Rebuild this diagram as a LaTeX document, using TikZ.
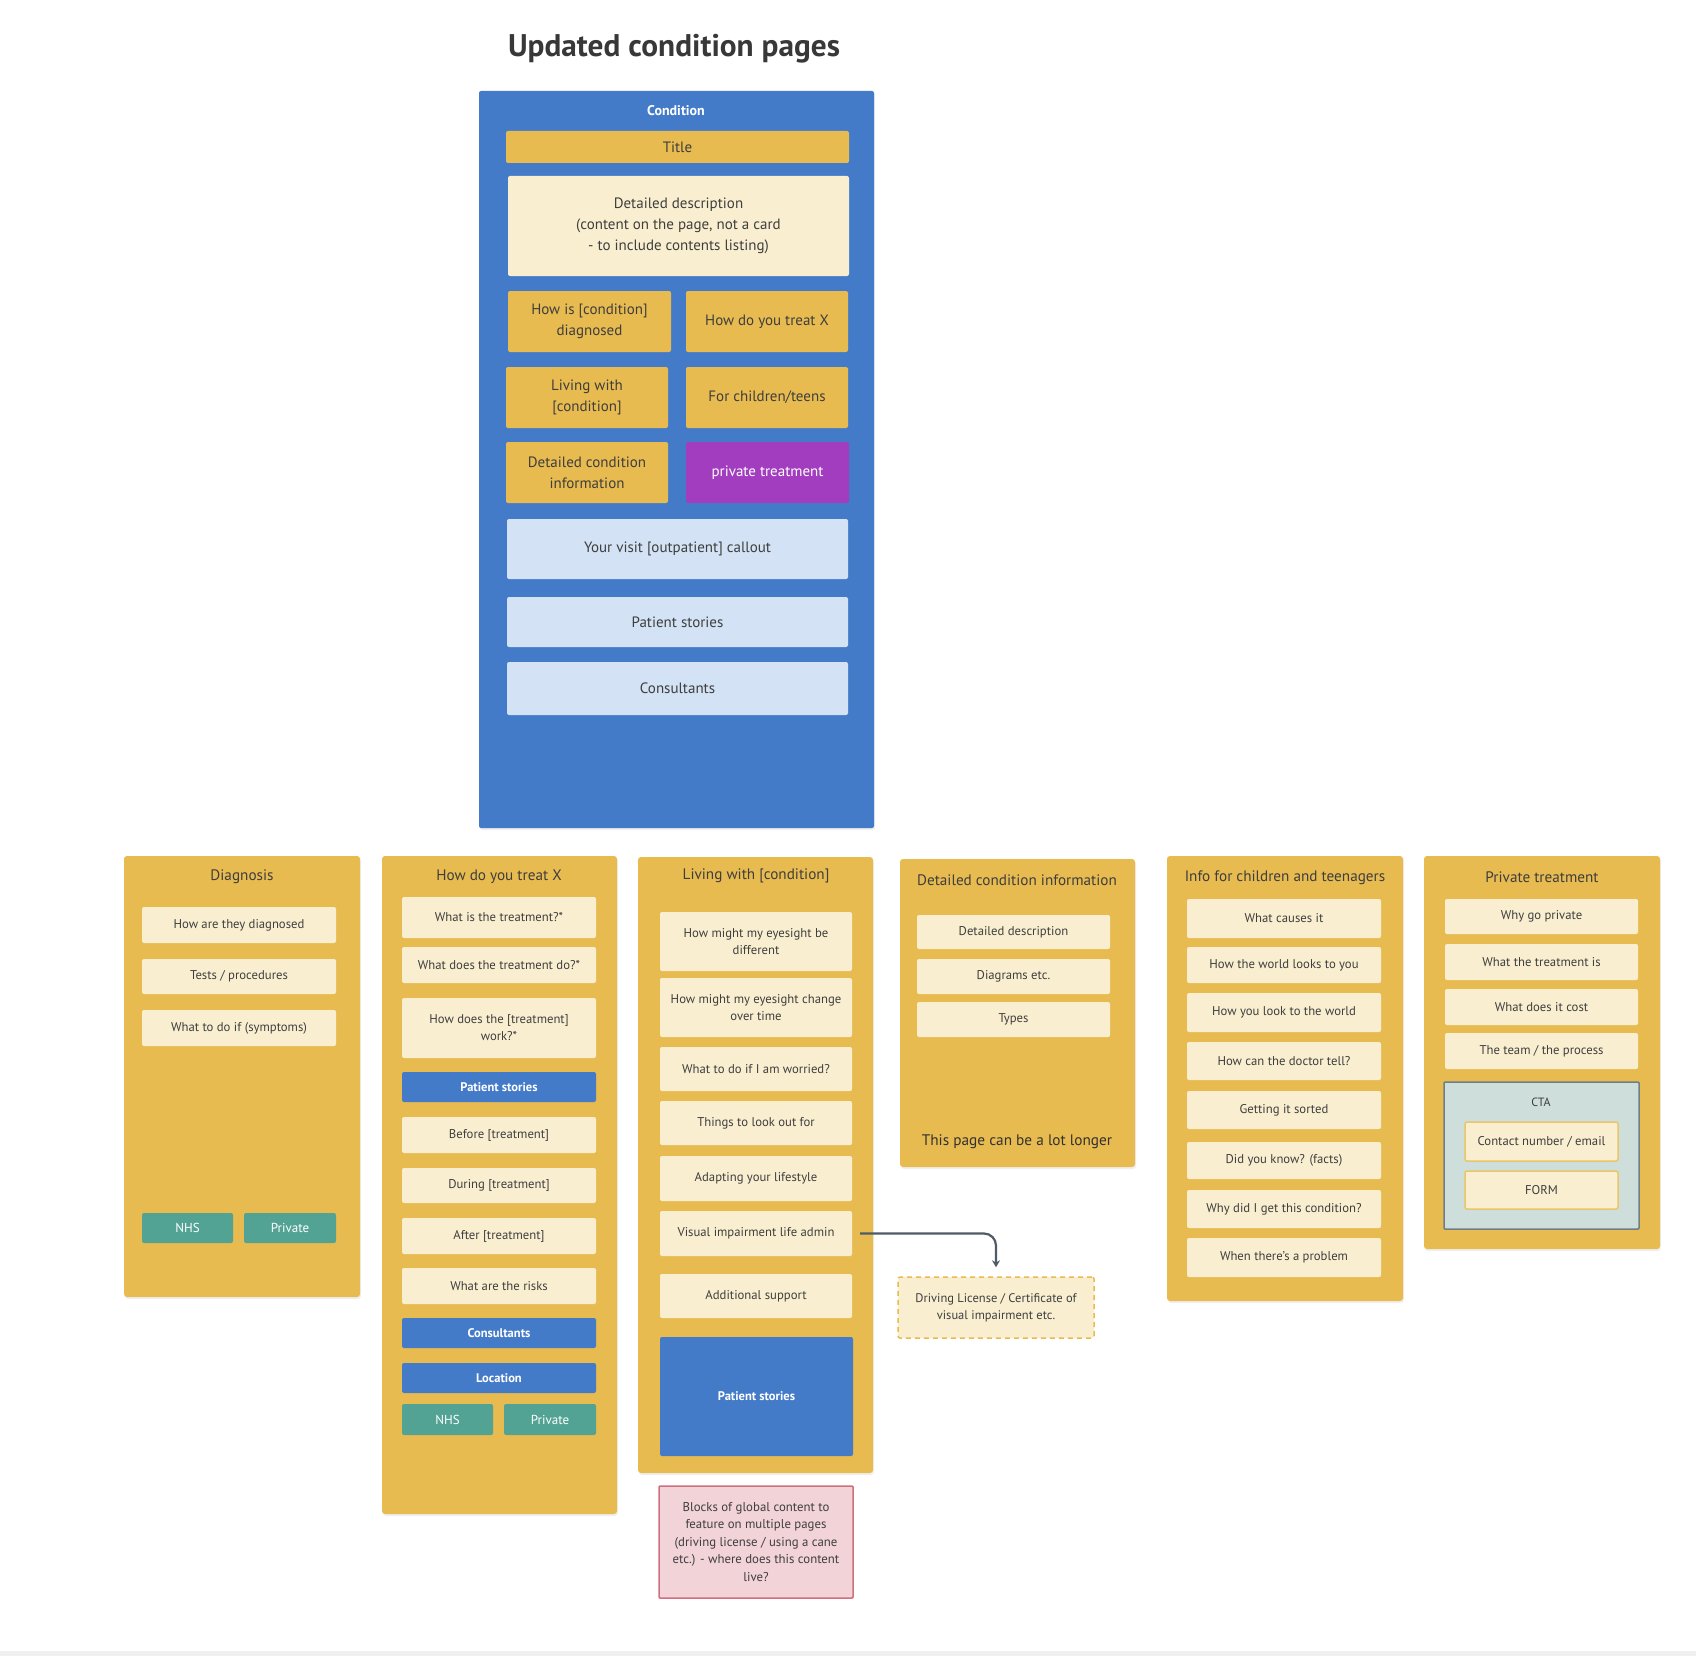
\documentclass[tikz,border=0pt]{standalone}
\usepackage{fontspec}
\setmainfont{PT Sans}
\usetikzlibrary{arrows.meta,shadows}
\definecolor{condblue}{HTML}{447BC9}
\definecolor{panelY}{HTML}{E8BB50}
\definecolor{cream}{HTML}{F9EFD0}
\definecolor{lightblue}{HTML}{D3E2F4}
\definecolor{purp}{HTML}{A23DC0}
\definecolor{teal}{HTML}{53A395}
\definecolor{pinkfill}{HTML}{F2D3D8}
\definecolor{pinkline}{HTML}{D0707E}
\definecolor{ctafill}{HTML}{CEDEDB}
\definecolor{ctaline}{HTML}{6F7F86}
\definecolor{txt}{HTML}{3E3E3E}
\definecolor{conn}{HTML}{4F5B66}
\newcommand\mybox[7]{\node[#2, minimum width={(#5-#3)*1pt}, minimum height={(#6-#4)*1pt}] (#1) at ({(#3+#5)/2},{(#4+#6)/2}) {#7};}
\tikzset{
  base/.style={inner sep=0pt, align=center, text=txt, font=\fontsize{12.7}{17}\selectfont},
  panel/.style={base, fill=panelY, rounded corners=3pt, drop shadow={opacity=0.12, shadow xshift=1pt, shadow yshift=-2pt}},
  card/.style={base, fill=cream, rounded corners=2pt},
  bigcard/.style={card, font=\fontsize{15}{21}\selectfont},
  ybox/.style={base, fill=panelY, rounded corners=2pt, font=\fontsize{15}{21}\selectfont},
  lbbox/.style={base, fill=lightblue, rounded corners=2pt, font=\fontsize{15}{21}\selectfont},
  bluebox/.style={base, fill=condblue, text=white, rounded corners=2pt, font=\bfseries\fontsize{12.5}{15}\selectfont},
  tealbox/.style={base, fill=teal, text=white, rounded corners=2pt, font=\fontsize{13}{15}\selectfont},
  ptitle/.style={inner sep=0pt, text=txt, font=\fontsize{15.2}{18}\selectfont},
  connector/.style={draw=conn, line width=2.2pt, rounded corners=12pt, -{Stealth[length=7pt,width=8pt]}},
}
\begin{document}
\begin{tikzpicture}[x=1pt,y=-1pt]
\useasboundingbox (0,0) rectangle (1696,1656);
\fill[white] (0,0) rectangle (1696,1656);
\fill[black!6] (0,1651) rectangle (1696,1656);

\node[inner sep=0pt, text=txt!90!black, font=\bfseries\fontsize{31.3}{36}\selectfont] (maintitle) at (674,49) {Updated condition pages};

% Condition page
\mybox{cond}{base, fill=condblue, rounded corners=2pt, drop shadow={opacity=0.12, shadow xshift=1pt, shadow yshift=-2pt}}{479}{91}{874}{828}{}
\node[inner sep=0pt, text=white, font=\bfseries\fontsize{14}{16}\selectfont] (condlabel) at (676,111) {Condition};
\mybox{ctitle}{ybox}{506}{131}{849}{163}{Title}
\mybox{cdesc}{bigcard}{508}{176}{849}{276}{Detailed description\\(content on the page, not a card\\- to include contents listing)}
\mybox{cdiag}{ybox}{508}{291}{671}{352}{How is [condition]\\diagnosed}
\mybox{ctreat}{ybox}{686}{291}{848}{352}{How do you treat X}
\mybox{cliving}{ybox}{506}{367}{668}{428}{Living with\\{[condition]}}
\mybox{cchild}{ybox}{686}{367}{848}{428}{For children/teens}
\mybox{cdetail}{ybox}{506}{442}{668}{503}{Detailed condition\\information}
\mybox{cprivate}{ybox, fill=purp, text=white}{686}{442}{849}{503}{private treatment}
\mybox{cvisit}{lbbox}{507}{519}{848}{579}{Your visit [outpatient] callout}
\mybox{cstories}{lbbox}{507}{597}{848}{647}{Patient stories}
\mybox{cconsult}{lbbox}{507}{662}{848}{715}{Consultants}

% Diagnosis
\mybox{pdiag}{panel}{124}{856}{360}{1297}{}
\node[ptitle] (tdiag) at (242,877) {Diagnosis};
\mybox{d1}{card}{142}{907}{336}{943}{How are they diagnosed}
\mybox{d2}{card}{142}{959}{336}{994}{Tests / procedures}
\mybox{d3}{card}{142}{1010}{336}{1046}{What to do if (symptoms)}
\mybox{dnhs}{tealbox}{142}{1213}{233}{1243}{NHS}
\mybox{dpriv}{tealbox}{244}{1213}{336}{1243}{Private}

% How do you treat X
\mybox{ptreat}{panel}{382}{856}{617}{1514}{}
\node[ptitle] (ttreat) at (499,877) {How do you treat X};
\mybox{t1}{card}{402}{897}{596}{938}{What is the treatment?*}
\mybox{t2}{card}{402}{947}{596}{983}{What does the treatment do?*}
\mybox{t3}{card}{402}{998}{596}{1058}{How does the [treatment]\\{work?*}}
\mybox{t4}{bluebox}{402}{1072}{596}{1102}{Patient stories}
\mybox{t5}{card}{402}{1117}{596}{1153}{Before [treatment]}
\mybox{t6}{card}{402}{1168}{596}{1203}{During [treatment]}
\mybox{t7}{card}{402}{1218}{596}{1254}{After [treatment]}
\mybox{t8}{card}{402}{1268}{596}{1304}{What are the risks}
\mybox{t9}{bluebox}{402}{1318}{596}{1348}{Consultants}
\mybox{t10}{bluebox}{402}{1363}{596}{1393}{Location}
\mybox{tnhs}{tealbox}{402}{1404}{493}{1435}{NHS}
\mybox{tpriv}{tealbox}{504}{1404}{596}{1435}{Private}

% Living with
\mybox{pliving}{panel}{638}{857}{873}{1473}{}
\node[ptitle] (tliving) at (756,876) {Living with [condition]};
\mybox{l1}{card}{660}{912}{852}{971}{How might my eyesight be\\{different}}
\mybox{l2}{card}{660}{978}{852}{1037}{How might my eyesight change\\{over time}}
\mybox{l3}{card}{660}{1047}{852}{1091}{What to do if I am worried?}
\mybox{l4}{card}{660}{1101}{852}{1145}{Things to look out for}
\mybox{l5}{card}{660}{1156}{852}{1201}{Adapting your lifestyle}
\mybox{l6}{card}{660}{1211}{852}{1256}{Visual impairment life admin}
\mybox{l7}{card}{660}{1274}{852}{1318}{Additional support}
\mybox{l8}{bluebox}{660}{1337}{853}{1456}{Patient stories}
\mybox{pink}{card, fill=pinkfill, draw=pinkline, line width=1.5pt, rounded corners=1pt, font=\fontsize{12.8}{17.5}\selectfont}{659}{1486}{853}{1598}{Blocks of global content to\\{feature on multiple pages}\\{(driving license / using a cane}\\{etc.) - where does this content}\\{live?}}

% Driving license note
\mybox{drive}{card, draw=panelY, line width=1.5pt, dashed, dash pattern=on 5pt off 4pt, rounded corners=2pt, font=\fontsize{12.5}{17}\selectfont}{898}{1277}{1094}{1338}{Driving License / Certificate of\\{visual impairment etc.}}
\draw[connector, shorten >=9pt] ([xshift=8pt]l6.east) -| (drive.north);

% Detailed condition information
\mybox{pdetail}{panel}{900}{859}{1135}{1167}{}
\node[ptitle] (tdetail) at (1017,880) {Detailed condition information};
\mybox{e1}{card}{917}{915}{1110}{949}{Detailed description}
\mybox{e2}{card}{917}{959}{1110}{994}{Diagrams etc.}
\mybox{e3}{card}{917}{1002}{1110}{1037}{Types}
\node[ptitle, font=\fontsize{15.3}{18}\selectfont, text=txt!80!black] (longer) at (1017,1142) {This page can be a lot longer};

% Info for children and teenagers
\mybox{pchild}{panel}{1167}{856}{1403}{1301}{}
\node[ptitle] (tchild) at (1285,878) {Info for children and teenagers};
\mybox{k1}{card}{1187}{899}{1381}{938}{What causes it}
\mybox{k2}{card}{1187}{947}{1381}{983}{How the world looks to you}
\mybox{k3}{card}{1187}{993}{1381}{1032}{How you look to the world}
\mybox{k4}{card}{1187}{1042}{1381}{1080}{How can the doctor tell?}
\mybox{k5}{card}{1187}{1091}{1381}{1129}{Getting it sorted}
\mybox{k6}{card}{1187}{1142}{1381}{1179}{Did you know? (facts)}
\mybox{k7}{card}{1187}{1190}{1381}{1228}{Why did I get this condition?}
\mybox{k8}{card}{1187}{1238}{1381}{1277}{When there's a problem}

% Private treatment
\mybox{ppriv}{panel}{1424}{856}{1660}{1249}{}
\node[ptitle] (tpriv) at (1542,877) {Private treatment};
\mybox{p1}{card}{1445}{899}{1638}{934}{Why go private}
\mybox{p2}{card}{1445}{944}{1638}{980}{What the treatment is}
\mybox{p3}{card}{1445}{989}{1638}{1025}{What does it cost}
\mybox{p4}{card}{1445}{1033}{1638}{1069}{The team / the process}
\mybox{cta}{base, fill=ctafill, draw=ctaline, line width=1.5pt, rounded corners=1pt}{1444}{1082}{1639}{1229}{}
\node[inner sep=0pt, text=txt, font=\fontsize{12}{14}\selectfont] (ctalabel) at (1541,1102) {CTA};
\mybox{p5}{card, draw=panelY!85!white, line width=1.5pt}{1465}{1122}{1618}{1161}{Contact number / email}
\mybox{p6}{card, draw=panelY!85!white, line width=1.5pt}{1465}{1171}{1618}{1209}{FORM}
\end{tikzpicture}
\end{document}
